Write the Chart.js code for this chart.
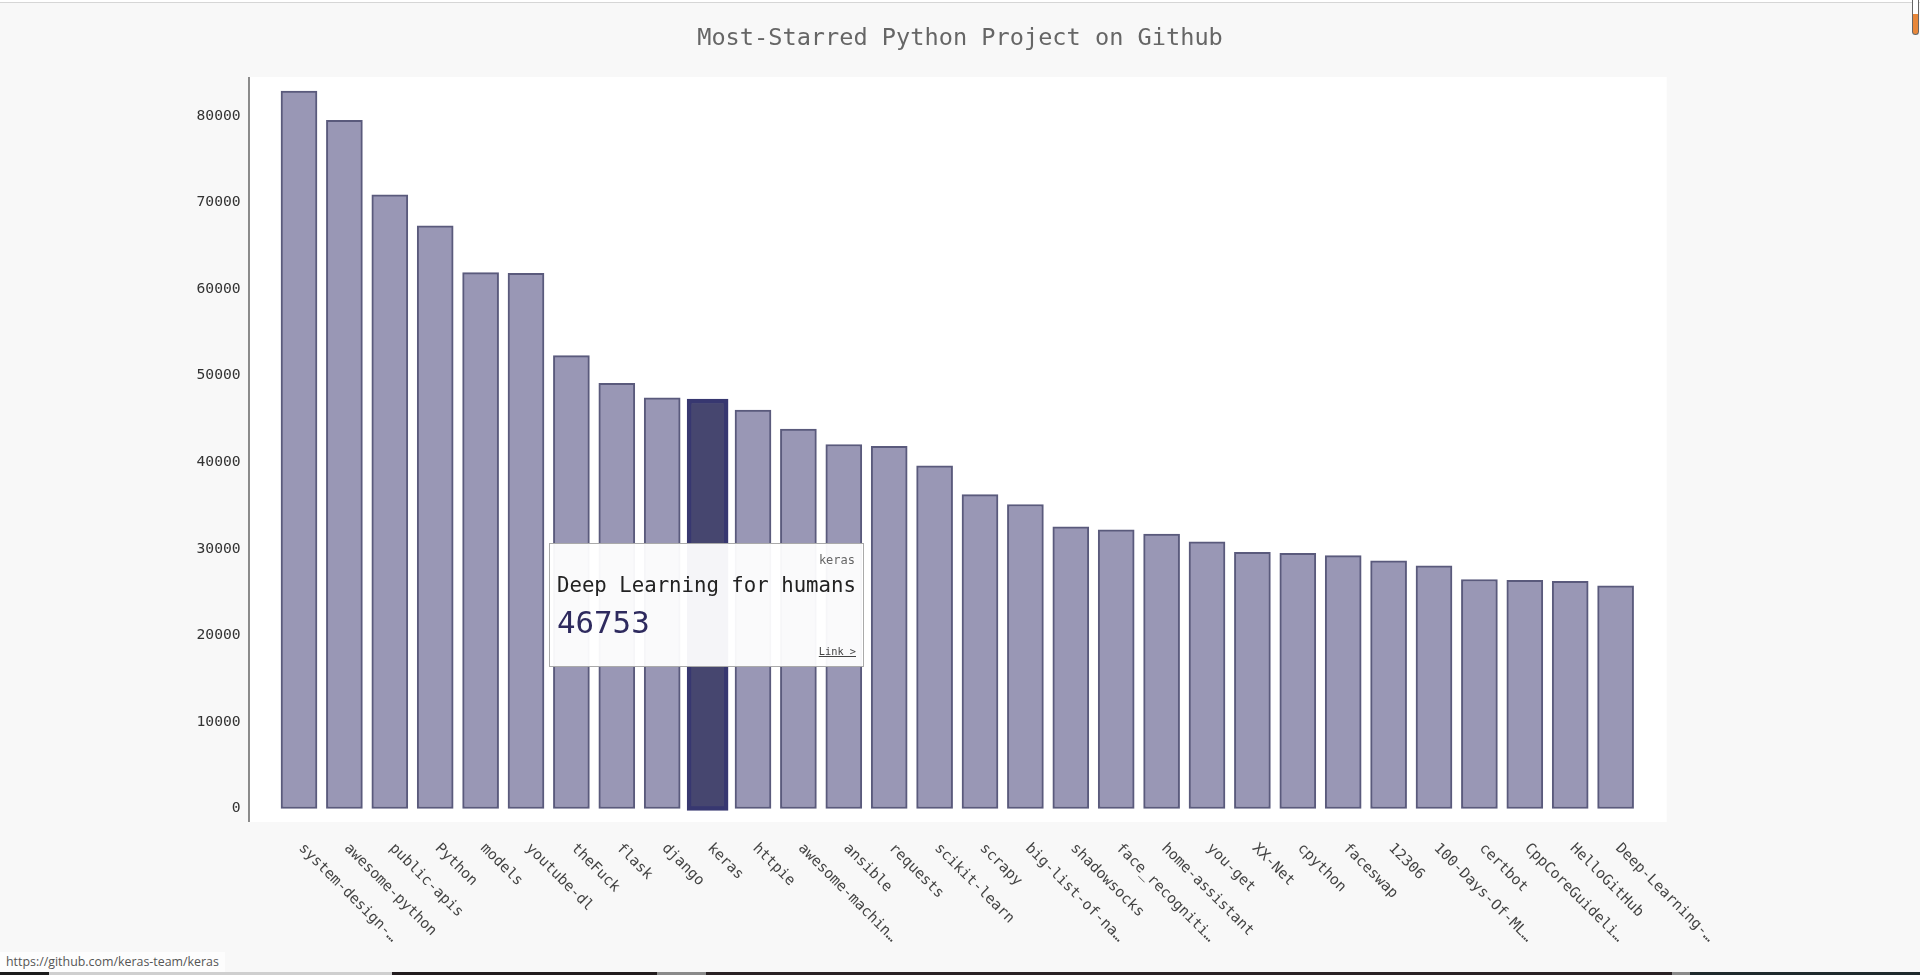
<!DOCTYPE html>
<html>
<head>
<meta charset="utf-8">
<title>Most-Starred Python Project on Github</title>
<script src="https://cdn.jsdelivr.net/npm/chart.js@4"></script>
<style>
  html, body { margin: 0; padding: 0; background: #f8f8f8; overflow: hidden; }
  #wrap { position: relative; width: 1920px; height: 975px; }
  canvas { position: absolute; left: 0; top: 0; }
  #topline { position: absolute; left: 0; top: 0; width: 1920px; height: 3px; background: #fff; border-bottom: 1px solid #d6d6d6; box-sizing: border-box; }
  #bottomline { position: absolute; left: 0; top: 972px; width: 1920px; height: 3px;
    background: linear-gradient(to right, #1c1c1c 0 49px, #cfcfcf 49px 392px, #221c1e 392px 657px, #8a8a8a 657px 706px, #2a2224 706px 1672px, #8a8a8a 1672px 1690px, #1f2a2c 1690px); }
  #status { position: absolute; left: 0; top: 952px; width: 225px; height: 20px; background: #fdfdfd; color: #555;
    font: 12.4px/20px "Open Sans", sans-serif; padding-left: 6px; box-sizing: border-box; white-space: nowrap; }
  #thumb { position: absolute; left: 1912px; top: 0; width: 7px; height: 35px; box-sizing: border-box; border: 1.5px solid #666; border-top: 0; border-radius: 0 0 4px 4px;
    background: linear-gradient(to bottom, #fff 0 14px, #e8873a 14px); }
  #tip { position: absolute; left: 549px; top: 543px; width: 315px; height: 124px; box-sizing: border-box; background: rgba(255,255,255,.95); border: 1px solid #aaa;
    font-family: "DejaVu Sans Mono", monospace; }
  #tip div { position: absolute; white-space: nowrap; }
  #tipName { right: 8px; top: 9px; font-size: 12px; line-height: 14px; color: #666; }
  #tipDesc { left: 7px; top: 28px; font-size: 20.7px; line-height: 26px; color: #222; }
  #tipValue { left: 7px; top: 59px; font-size: 30.8px; line-height: 38px; color: #2e2a5e; }
  #tipLink { right: 7px; top: 101px; font-size: 10.3px; line-height: 13px; color: #444; text-decoration: underline; }
</style>
</head>
<body>
<div id="wrap">
  <canvas id="starChart" width="1920" height="975"></canvas>
  <div id="topline"></div>
  <div id="thumb"></div>
  <div id="tip"><div id="tipName"></div><div id="tipDesc"></div><div id="tipValue"></div><div id="tipLink"></div></div>
  <div id="status"></div>
  <div id="bottomline"></div>
</div>
<script>
const chartTitle = 'Most-Starred Python Project on Github';
const categories = ['system-design-…', 'awesome-python', 'public-apis', 'Python', 'models', 'youtube-dl', 'theFuck', 'flask', 'django', 'keras',
  'httpie', 'awesome-machin…', 'ansible', 'requests', 'scikit-learn', 'scrapy', 'big-list-of-na…', 'shadowsocks', 'face_recogniti…', 'home-assistant',
  'you-get', 'XX-Net', 'cpython', 'faceswap', '12306', '100-Days-Of-ML…', 'certbot', 'CppCoreGuideli…', 'HelloGitHub', 'Deep-Learning-…'];
const stars = [82850, 79480, 70860, 67280, 61890, 61810, 52300, 49110, 47420, 46753,
  46010, 43800, 42030, 41830, 39560, 36250, 35100, 32520, 32170, 31680,
  30790, 29590, 29480, 29210, 28590, 28020, 26440, 26360, 26240, 25710];
const yTicks = [0, 10000, 20000, 30000, 40000, 50000, 60000, 70000, 80000];

const hoveredName = 'keras';
const hoveredDesc = 'Deep Learning for humans';
const hoveredLink = 'Link >';
const hoveredUrl = 'https://github.com/keras-team/keras';

const monoFont = '"DejaVu Sans Mono", monospace';

// the hovered bar grows past its value by its thick stroke
const hoveredBar = categories.map((name, i) => name === hoveredName ? [-230, stars[i] + 530] : null);

document.getElementById('tipName').textContent = hoveredName;
document.getElementById('tipDesc').textContent = hoveredDesc;
document.getElementById('tipValue').textContent = stars[categories.indexOf(hoveredName)];
document.getElementById('tipLink').textContent = hoveredLink;
document.getElementById('status').textContent = hoveredUrl;

// white plot background and y axis line, a bit wider than the bar bands
const plotBackground = {
    id: 'plotBackground',
    beforeDatasetsDraw(chart) {
        const { ctx, chartArea } = chart;
        const left = chartArea.left - 27.3;
        const right = chartArea.right + 28.4;
        ctx.save();
        ctx.fillStyle = '#ffffff';
        ctx.fillRect(left, chartArea.top, right - left, chartArea.bottom - chartArea.top);
        ctx.strokeStyle = '#666666';
        ctx.lineWidth = 1.5;
        ctx.beginPath();
        ctx.moveTo(left, chartArea.top);
        ctx.lineTo(left, chartArea.bottom);
        ctx.stroke();
        ctx.restore();
    }
};

// chart.js only right-aligns rotated bottom labels, these read downwards from the tick
const slantedLabels = {
    id: 'slantedLabels',
    afterDraw(chart) {
        const { ctx, chartArea } = chart;
        const xScale = chart.scales.x;
        ctx.save();
        ctx.font = '14.7px ' + monoFont;
        ctx.fillStyle = '#444444';
        ctx.textAlign = 'left';
        ctx.textBaseline = 'middle';
        categories.forEach((name, i) => {
            ctx.save();
            ctx.translate(xScale.getPixelForTick(i) + 2, chartArea.bottom + 24);
            ctx.rotate(Math.PI / 4);
            ctx.fillText(name, 0, 0);
            ctx.restore();
        });
        ctx.restore();
    }
};

new Chart(document.getElementById('starChart'), {
    type: 'bar',
    data: {
        labels: categories,
        datasets: [{
            label: 'Hovered',
            data: hoveredBar,
            backgroundColor: '#46466f',
            borderColor: '#373770',
            borderWidth: 4.5,
            borderSkipped: false,
            barThickness: 41,
            grouped: false,
            order: 0
        }, {
            label: 'Stars',
            data: stars,
            backgroundColor: '#9997b5',
            borderColor: '#5a5a7c',
            borderWidth: 2,
            borderSkipped: false,
            barThickness: 36,
            grouped: false,
            order: 1
        }]
    },
    options: {
        responsive: false,
        animation: false,
        events: [],
        plugins: {
            legend: { display: false },
            tooltip: { enabled: false },
            title: {
                display: true,
                text: chartTitle,
                color: '#666666',
                font: { family: monoFont, size: 23.6, weight: 'normal' },
                padding: { top: 24.4, bottom: 24.3 }
            }
        },
        scales: {
            x: {
                grid: { display: false },
                border: { display: false },
                ticks: { display: false },
                afterFit: scale => { scale.height = 153; }
            },
            y: {
                min: -1560,
                max: 84470,
                grid: { display: false, drawTicks: false },
                border: { display: false },
                afterBuildTicks: scale => { scale.ticks = yTicks.map(value => ({ value })); },
                ticks: {
                    color: '#333333',
                    padding: 35.6,
                    font: { family: monoFont, size: 14.7 },
                    callback: value => String(value)
                },
                afterFit: scale => { scale.width = 276.3; }
            },
            // empty axis, only keeps the bars off the right side of the page
            rightMargin: {
                type: 'linear',
                position: 'right',
                grid: { display: false, drawTicks: false },
                border: { display: false },
                ticks: { display: false },
                afterFit: scale => { scale.width = 281.7; }
            }
        }
    },
    plugins: [plotBackground, slantedLabels]
});
</script>
</body>
</html>
